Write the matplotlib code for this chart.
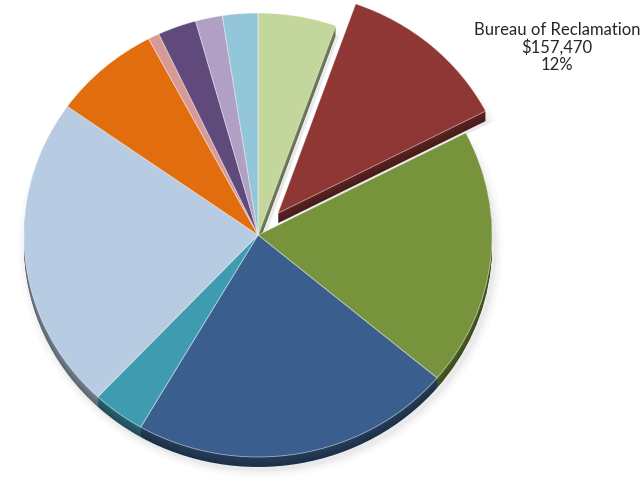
import matplotlib
matplotlib.use("Agg")
import matplotlib.pyplot as plt
from matplotlib.colors import to_rgb

# Funding by agency (dollars), clockwise from 12 o'clock
agencies = ["Agency A", "Bureau of Reclamation", "Agency B", "Agency C", "Agency D",
            "Agency E", "Agency F", "Agency G", "Agency H", "Agency I", "Agency J"]
amounts = [70700, 157470, 246000, 291600, 47800, 299600, 97400, 10200, 35000, 24400, 32000]
colors = ["#c3d69b", "#8f3735", "#77933c", "#3a5f8e", "#3f9bb0", "#b7cbe3",
          "#e26d0e", "#d79a97", "#604a7b", "#b1a0c6", "#93c6d9"]
highlight = "Bureau of Reclamation"

explode = [0.13 if a == highlight else 0.0 for a in agencies]
total = sum(amounts)

fig = plt.figure(figsize=(6.41, 4.79), dpi=100)
ax = fig.add_axes([0, 0, 1, 1])

def darker(c, f=0.55):
    r, g, b = to_rgb(c)
    return (r * f, g * f, b * f)

depth = 0.045

# soft drop shadow
for a, grow in [(0.04, 0.035), (0.05, 0.02), (0.07, 0.008)]:
    ax.pie(amounts, explode=explode, startangle=90, counterclock=False,
           radius=1 + grow, center=(0.012, -depth - 0.012),
           colors=["#808080"] * len(amounts),
           wedgeprops=dict(linewidth=0, alpha=a))

# side walls of the disc, stacked from the bottom up
steps = 8
for k in range(steps, 0, -1):
    ax.pie(amounts, explode=explode, startangle=90, counterclock=False,
           center=(0, -depth * k / steps),
           colors=[darker(c, 0.5 + 0.15 * (1 - k / steps)) for c in colors],
           wedgeprops=dict(linewidth=0))

# top face
wedges, _ = ax.pie(amounts, explode=explode, startangle=90, counterclock=False,
                   colors=colors,
                   wedgeprops=dict(linewidth=0.6, edgecolor=(1, 1, 1, 0.55)))

idx = agencies.index(highlight)
share = amounts[idx] / total
ax.text(1.278, 0.845, f"{highlight}\n${amounts[idx]:,}\n{share:.0%}",
        ha="center", va="center", fontsize=12, family="Lato", color="#262626",
        linespacing=1.1)

ax.set_aspect("auto")
ax.set_xlim(-258 / 234, (641 - 258) / 234)
ax.set_ylim(-(479 - 235) / 222, 235 / 222)
ax.axis("off")

fig.savefig("out.png", dpi=100, facecolor="white")
